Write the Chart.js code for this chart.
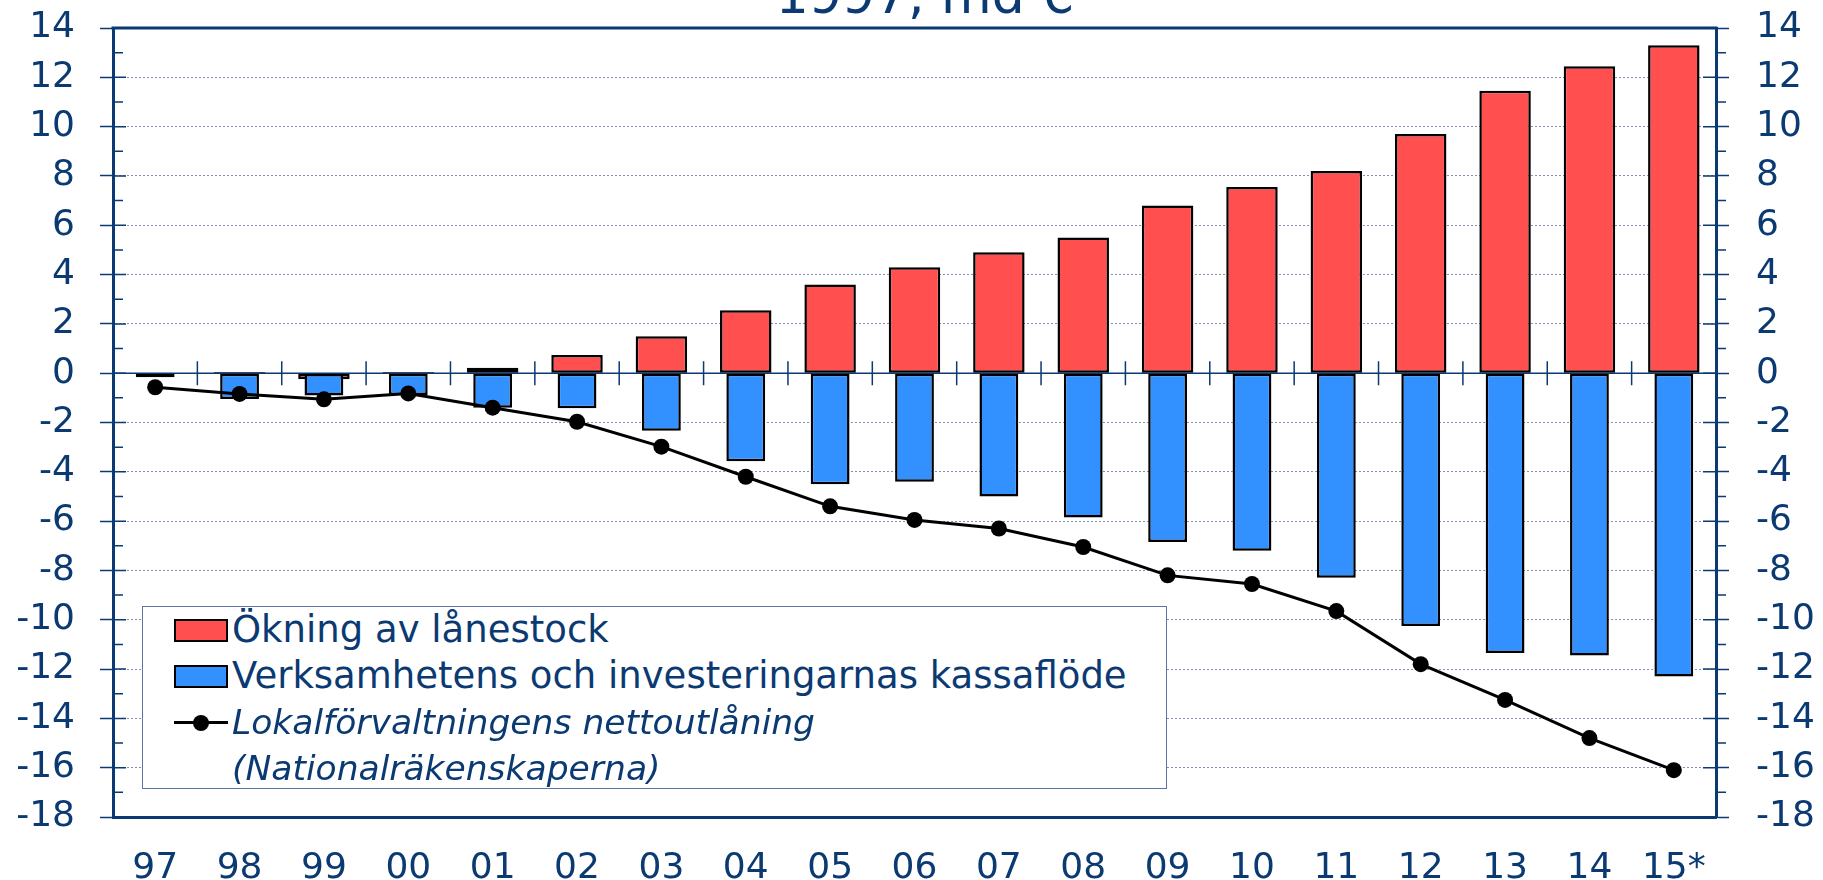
<!DOCTYPE html>
<html>
<head>
<meta charset="utf-8">
<script src="https://cdn.jsdelivr.net/npm/chart.js@4.4.1/dist/chart.umd.min.js"></script>
<style>
  body { margin: 0; background: #fff; }
  #wrap { position: relative; width: 1823px; height: 880px; overflow: hidden; }
  #title { position: absolute; left: 0; width: 1850px; top: -31px; text-align: center;
           font: 52px "DejaVu Sans", sans-serif; line-height: 52px; color: #0B3A73; }
  #legend { position: absolute; left: 142px; top: 606px; width: 1023px; height: 181px;
            border: 1.5px solid #5A78A6; background: #fff; }
  .sw { position: absolute; left: 31px; width: 50px; height: 19px; border: 2px solid #000; }
  .lt { position: absolute; left: 89px; width: 920px; font: 37px "DejaVu Sans", sans-serif;
        line-height: 46px; color: #0B3A73; white-space: normal; }
  .lt.it { font-style: italic; font-size: 34.5px; }
</style>
</head>
<body>
<div id="wrap">
  <canvas id="chart" width="1823" height="880"></canvas>
  <div id="title">1997, md €</div>
  <div id="legend"></div>
</div>
<script>
var categories = ['97', '98', '99', '00', '01', '02', '03', '04', '05', '06', '07', '08', '09', '10', '11', '12', '13', '14', '15*'];
var okningLanestock = [0, 0.05, -0.25, 0.05, 0.22, 0.74, 1.5, 2.55, 3.6, 4.3, 4.9, 5.5, 6.8, 7.55, 8.2, 9.7, 11.45, 12.45, 13.3];
var kassaflode = [-0.16, -1.05, -0.9, -0.88, -1.4, -1.42, -2.33, -3.57, -4.5, -4.4, -5.0, -5.85, -6.85, -7.2, -8.3, -10.25, -11.35, -11.45, -12.3];
var nettoutlaning = [-0.57, -0.84, -1.06, -0.82, -1.4, -1.97, -2.98, -4.2, -5.4, -5.95, -6.3, -7.05, -8.2, -8.55, -9.65, -11.8, -13.25, -14.8, -16.1];
var yMin = -18, yMax = 14, yStep = 2;

var navy = '#0B3A73';
var red = '#FF4F4F';
var blue = '#3391FF';
var font = '"DejaVu Sans", sans-serif';

// zero line, category marks on it, top border, minor ticks
var frame = {
    id: 'frame',
    beforeDatasetsDraw: function (chart) {
        var ctx = chart.ctx, a = chart.chartArea, x = chart.scales.x, y = chart.scales.y;
        var y0 = y.getPixelForValue(0);
        ctx.save();
        ctx.strokeStyle = navy;
        ctx.lineWidth = 1.5;
        ctx.beginPath();
        ctx.moveTo(a.left, y0);
        ctx.lineTo(a.right, y0);
        for (var i = 1; i < categories.length; i++) {
            var px = (x.getPixelForValue(i - 1) + x.getPixelForValue(i)) / 2;
            ctx.moveTo(px, y0 - 12);
            ctx.lineTo(px, y0 + 12);
        }
        ctx.stroke();
        ctx.restore();
    },
    afterDraw: function (chart) {
        var ctx = chart.ctx, a = chart.chartArea, y = chart.scales.y;
        ctx.save();
        ctx.strokeStyle = navy;
        ctx.lineWidth = 3;
        ctx.beginPath();
        ctx.moveTo(a.left - 1.5, a.top);
        ctx.lineTo(a.right + 1.5, a.top);
        ctx.stroke();
        ctx.lineWidth = 1.5;
        ctx.beginPath();
        for (var v = yMin; v <= yMax; v += 1) {
            var py = y.getPixelForValue(v);
            if (v % 2 === 0) {
                ctx.moveTo(a.left, py); ctx.lineTo(a.left + 13, py);
                ctx.moveTo(a.right, py); ctx.lineTo(a.right - 13, py);
            } else {
                ctx.moveTo(a.left, py); ctx.lineTo(a.left + 10, py);
                ctx.moveTo(a.right, py); ctx.lineTo(a.right + 10, py);
            }
        }
        ctx.stroke();
        ctx.restore();
    }
};

function yTicks(pad) {
    return {
        stepSize: yStep,
        color: navy,
        font: { family: font, size: 36 },
        padding: pad,
        autoSkip: false
    };
}

function fixWidth(w) {
    return function (s) {
        s.width = w;
        s.paddingTop = 0;
        s.paddingBottom = 0;
    };
}

var config = {
    type: 'bar',
    data: {
        labels: categories,
        datasets: [{
            label: 'Ökning av lånestock',
            data: okningLanestock,
            backgroundColor: red,
            borderColor: '#000',
            borderWidth: 2.5,
            borderSkipped: false,
            grouped: false,
            categoryPercentage: 1,
            barPercentage: 0.61,
            order: 2
        }, {
            label: 'Verksamhetens och investeringarnas kassaflöde',
            data: kassaflode,
            backgroundColor: blue,
            borderColor: '#000',
            borderWidth: 2.5,
            borderSkipped: false,
            grouped: false,
            categoryPercentage: 1,
            barPercentage: 0.46,
            order: 1
        }, {
            type: 'line',
            label: 'Lokalförvaltningens nettoutlåning (Nationalräkenskaperna)',
            data: nettoutlaning,
            borderColor: '#000',
            backgroundColor: '#000',
            borderWidth: 3,
            pointRadius: 8,
            pointBorderWidth: 0,
            tension: 0,
            order: 0
        }]
    },
    options: {
        responsive: false,
        animation: false,
        devicePixelRatio: 1,
        layout: { padding: { top: 28, left: 0, right: 0, bottom: 0 } },
        plugins: { legend: { display: false }, tooltip: { enabled: false } },
        scales: {
            x: {
                grid: { display: false },
                border: { display: true, color: navy, width: 3 },
                ticks: { color: navy, font: { family: font, size: 36 }, padding: 22, maxRotation: 0, autoSkip: false },
                afterFit: function (s) { s.height = 63; s.paddingLeft = 0; s.paddingRight = 0; }
            },
            y: {
                position: 'left',
                min: yMin, max: yMax,
                grid: { color: 'rgba(70,100,150,0.7)', lineWidth: 1, tickColor: navy, tickLength: 13, tickWidth: 1.5 },
                border: { display: true, color: navy, width: 3, dash: [2, 2] },
                ticks: yTicks(25),
                afterFit: fixWidth(113)
            },
            y2: {
                position: 'right',
                min: yMin, max: yMax,
                grid: { drawOnChartArea: false, tickColor: navy, tickLength: 13, tickWidth: 1.5 },
                border: { display: true, color: navy, width: 3 },
                ticks: yTicks(27),
                afterFit: fixWidth(107)
            }
        }
    },
    plugins: [frame]
};

window.onload = function () {
    var chart = new Chart(document.getElementById('chart').getContext('2d'), config);

    // legend built from the datasets
    var legend = document.getElementById('legend');
    var rows = [config.data.datasets[0], config.data.datasets[1], config.data.datasets[2]];
    rows.forEach(function (ds, i) {
        var top = 12 + 46 * i;
        if (ds.type === 'line') {
            var ln = document.createElement('div');
            ln.style.cssText = 'position:absolute;left:31px;width:54px;height:3px;background:#000;top:' + (top + 10) + 'px';
            var dot = document.createElement('div');
            dot.style.cssText = 'position:absolute;left:50px;width:16px;height:16px;border-radius:50%;background:#000;top:' + (top + 3.5) + 'px';
            legend.appendChild(ln);
            legend.appendChild(dot);
        } else {
            var sw = document.createElement('div');
            sw.className = 'sw';
            sw.style.top = top + 'px';
            sw.style.background = ds.backgroundColor;
            legend.appendChild(sw);
        }
        var t = document.createElement('div');
        t.className = ds.type === 'line' ? 'lt it' : 'lt';
        t.style.top = (top - 12) + 'px';
        t.textContent = ds.label;
        legend.appendChild(t);
    });
};
</script>
</body>
</html>
